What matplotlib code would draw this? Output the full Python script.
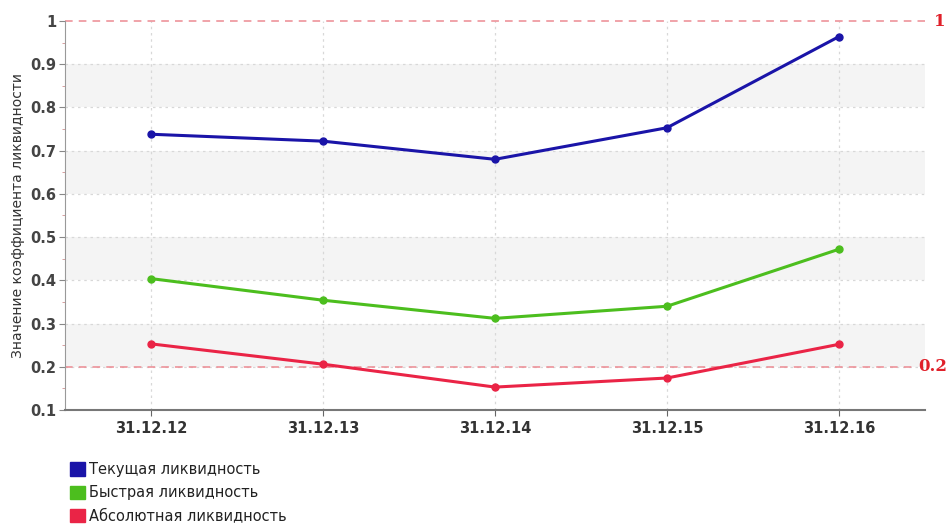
import matplotlib
matplotlib.use("Agg")
import matplotlib.pyplot as plt
from matplotlib.patches import Patch
from matplotlib.ticker import MultipleLocator

dates = ["31.12.12", "31.12.13", "31.12.14", "31.12.15", "31.12.16"]
current_liq = [0.738, 0.722, 0.680, 0.753, 0.964]
quick_liq = [0.404, 0.354, 0.312, 0.340, 0.472]
absolute_liq = [0.253, 0.206, 0.153, 0.174, 0.252]
series_names = ["Текущая ликвидность", "Быстрая ликвидность", "Абсолютная ликвидность"]
thresholds = [1.0, 0.2]
threshold_labels = ["1", "0.2"]

colors = ["#1a14a8", "#4cbe1e", "#ea2446"]

fig = plt.figure(figsize=(9.47, 5.24), dpi=100)
ax = fig.add_axes([65 / 947, 1 - 410 / 524, 860 / 947, 389 / 524])

x = list(range(len(dates)))
ax.set_xlim(-0.5, len(dates) - 0.5)
ax.set_ylim(0.1, 1.0)

# alternating background bands
for lo in [0.2, 0.4, 0.6, 0.8]:
    ax.axhspan(lo, lo + 0.1, color="#f4f4f4", zorder=0, lw=0)

# dotted grid
for yv in [0.2, 0.3, 0.4, 0.5, 0.6, 0.7, 0.8, 0.9]:
    ax.axhline(yv, color="#d8d8d8", lw=0.9, ls=(0, (2, 3)), zorder=1)
for xv in x:
    ax.axvline(xv, color="#d8d8d8", lw=0.9, ls=(0, (2, 3)), zorder=1)

# threshold lines with their labels on the right
line_end = {"1": 1.0, "0.2": 0.99}
label_x = {"1": 1.010, "0.2": 0.992}
for tv, tl in zip(thresholds, threshold_labels):
    ax.axhline(tv, xmax=line_end[tl], color="#ec8a92", lw=1.1, ls=(0, (5, 4)),
               zorder=2, clip_on=False)
    ax.text(label_x[tl], tv, tl, transform=ax.get_yaxis_transform(),
            color="#e0202a", fontsize=12, fontweight="bold", family="DejaVu Serif",
            va="center", ha="left")

for vals, c in zip([current_liq, quick_liq, absolute_liq], colors):
    ax.plot(x, vals, color=c, lw=2.2, marker="o", markersize=5, zorder=4)

ax.set_xticks(x)
ax.set_xticklabels(dates, fontsize=10.5, fontweight="bold", color="#333333")
ax.yaxis.set_minor_locator(MultipleLocator(0.05))
ax.set_yticks([0.1, 0.2, 0.3, 0.4, 0.5, 0.6, 0.7, 0.8, 0.9, 1.0])
ax.set_yticklabels(["0.1", "0.2", "0.3", "0.4", "0.5", "0.6", "0.7", "0.8", "0.9", "1"],
                   fontsize=10.5, fontweight="bold", color="#444444")
ax.tick_params(axis="y", which="major", length=4, color="#888888", pad=2)
ax.tick_params(axis="y", which="minor", length=2, color="#d09090")
ax.tick_params(axis="x", length=4, color="#666666", pad=4)

for side in ["top", "right"]:
    ax.spines[side].set_visible(False)
ax.spines["left"].set_color("#999999")
ax.spines["bottom"].set_color("#777777")
ax.spines["bottom"].set_linewidth(1.5)

ax.set_ylabel("Значение коэффициента ликвидности", fontsize=10, color="#333333", labelpad=4)

handles = [Patch(facecolor=c, edgecolor=c) for c in colors]
fig.legend(handles, series_names, loc="upper left",
           bbox_to_anchor=(70 / 947, 1 - 462 / 524), frameon=False,
           fontsize=10.5, handlelength=1.0, handleheight=1.0, handletextpad=0.3,
           labelspacing=0.55, borderpad=0, borderaxespad=0, labelcolor="#222222")

fig.savefig("out.png", dpi=100, facecolor="white")
